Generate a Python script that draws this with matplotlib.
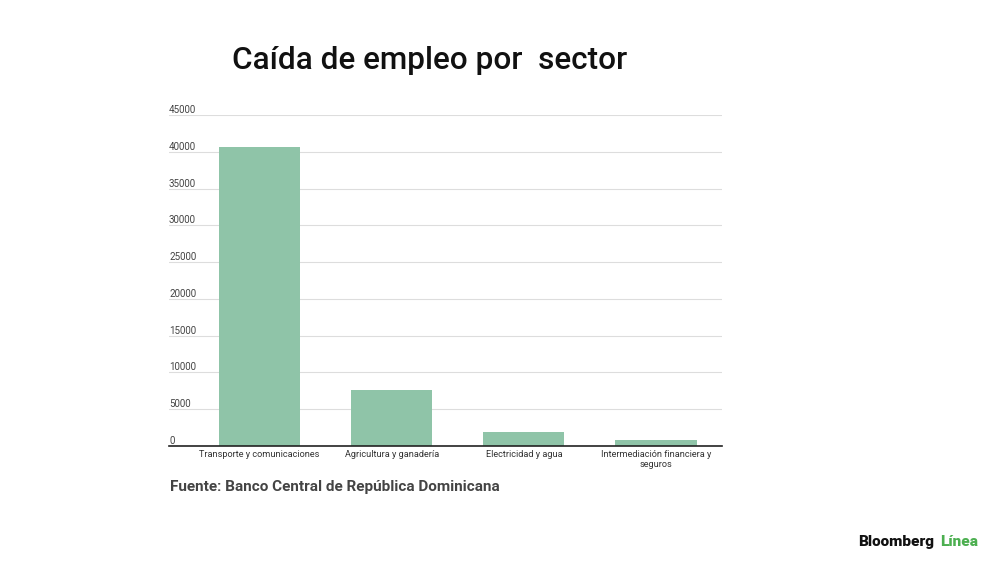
import matplotlib.pyplot as plt
import matplotlib.transforms as mtransforms

sectors = ["Transporte y comunicaciones", "Agricultura y ganadería",
           "Electricidad y agua", "Intermediación financiera y\nseguros"]
job_loss = [40600, 7600, 1900, 800]
y_ticks = [0, 5000, 10000, 15000, 20000, 25000, 30000, 35000, 40000, 45000]

plt.rcParams["font.family"] = ["Roboto", "DejaVu Sans"]

fig = plt.figure(figsize=(10, 5.62), dpi=100)
ax = fig.add_axes([0.169, 0.2064, 0.553, 0.5889])

x = list(range(len(sectors)))
ax.bar(x, job_loss, width=0.615, color="#8fc4a8", zorder=2)

ax.set_ylim(0, 45000)
ax.set_xlim(-0.686, 3.5)
ax.set_yticks(y_ticks)
ax.yaxis.grid(True, color="#dddddd", linewidth=0.8, zorder=0)
ax.tick_params(axis="y", length=0, labelleft=False)
ax.set_xticks(x)
ax.set_xticklabels(sectors, fontsize=6.6, color="#333333", linespacing=1.05)
ax.tick_params(axis="x", length=0, pad=3)
for side in ["top", "right", "left"]:
    ax.spines[side].set_visible(False)
ax.spines["bottom"].set_color("#222222")
ax.spines["bottom"].set_linewidth(1.2)
ax.spines["bottom"].set_zorder(3)

# tick labels sit just above each gridline, left aligned
trans = mtransforms.blended_transform_factory(ax.transAxes, ax.transData)
for t in y_ticks:
    ax.text(0.0, t, str(t), transform=trans, ha="left", va="bottom",
            fontsize=7, color="#444444")

fig.text(0.43, 0.893, "Caída de empleo por  sector", ha="center", va="center",
         fontsize=22.7, color="#111111", fontweight="medium")
fig.text(0.17, 0.133, "Fuente: Banco Central de República Dominicana",
         ha="left", va="center", fontsize=11, color="#444444",
         fontweight="semibold")

fig.text(0.858, 0.035, "Bloomberg", ha="left", va="center", fontsize=11,
         fontweight="heavy", color="#111111")
fig.text(0.940, 0.035, "Línea", ha="left", va="center", fontsize=11,
         fontweight="heavy", color="#4caf50")

fig.savefig("out.png", dpi=100, facecolor="white")
